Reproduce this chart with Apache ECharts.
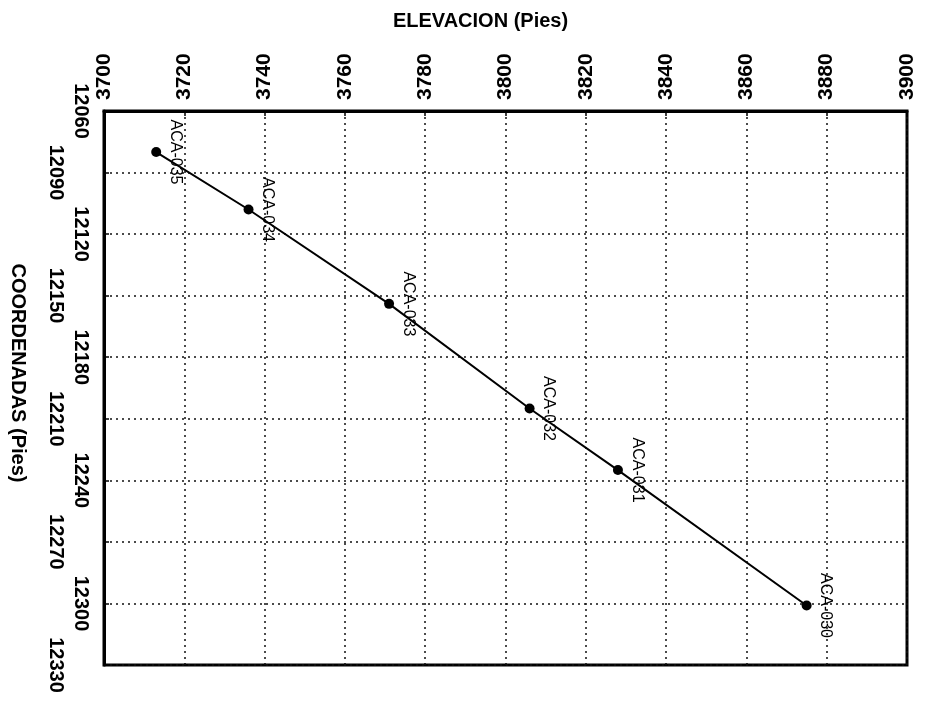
<!DOCTYPE html>
<html>
<head>
<meta charset="utf-8">
<script src="https://cdn.jsdelivr.net/npm/echarts@6/dist/echarts.min.js"></script>
<style>
html,body{margin:0;padding:0;background:#fff;}
#chart{width:926px;height:709px;}
</style>
</head>
<body>
<div id="chart"></div>
<script>
// Data (rotated scan)
const wellNames = ['ACA-035', 'ACA-034', 'ACA-033', 'ACA-032', 'ACA-031', 'ACA-030'];
const elevation = [3713, 3736, 3771, 3806, 3828, 3875];       // ELEVACION (Pies)
const coordinates = [12080, 12108, 12154, 12205, 12235, 12301]; // COORDENADAS (Pies)

const elevTicks = ['3700','3720','3740','3760','3780','3800','3820','3840','3860','3880','3900'];
const coordTicks = ['12060','12090','12120','12150','12180','12210','12240','12270','12300','12330'];

const xTitle = 'ELEVACION (Pies)';
const yTitle = 'COORDENADAS (Pies)';

const FONT = '"Liberation Sans", Arial, sans-serif';

const points = elevation.map((e, i) => ({ name: wellNames[i], value: [e, coordinates[i]] }));

function coordLabel(value, parity) {
  const idx = Math.round((value - 12060) / 30);
  if (idx % 2 !== parity) return '';
  return coordTicks[idx] !== undefined ? coordTicks[idx] : '';
}

const chart = echarts.init(document.getElementById('chart'), null, { renderer: 'canvas' });
chart.setOption({
  backgroundColor: '#ffffff',
  animation: false,
  grid: {
    left: 103, top: 111, right: 19, bottom: 44,
    show: true, borderColor: '#000', borderWidth: 3, backgroundColor: 'transparent'
  },
  xAxis: {
    type: 'value', position: 'top',
    min: 3700, max: 3900, interval: 20,
    name: xTitle, nameLocation: 'middle', nameGap: 80,
    nameTextStyle: { fontFamily: FONT, fontWeight: 'bold', fontSize: 20, color: '#000', padding: [0, 50, 0, 0] },
    axisLine: { show: true, lineStyle: { color: '#000', width: 3 } },
    axisTick: { show: true, inside: true, length: 5, lineStyle: { color: '#000', width: 1.5 } },
    axisLabel: {
      rotate: -90, margin: 11, fontFamily: FONT, fontWeight: 'bold', fontSize: 21, color: '#000',
      formatter: (v) => { const i = Math.round((v - 3700) / 20); return elevTicks[i] || ''; }
    },
    splitLine: { show: true, lineStyle: { color: '#111', width: 1.5, type: [2, 4] } }
  },
  yAxis: [
    {
      type: 'value', position: 'left', inverse: true,
      min: 12060, max: 12330, interval: 30,
      name: yTitle, nameLocation: 'middle', nameGap: 76, nameRotate: -90,
      nameTextStyle: { fontFamily: FONT, fontWeight: 'bold', fontSize: 20, color: '#000', padding: [0, 30, 0, 0] },
      axisLine: { show: true, lineStyle: { color: '#000', width: 3 } },
      axisTick: { show: true, inside: true, length: 5, lineStyle: { color: '#000', width: 1.5 } },
      axisLabel: {
        rotate: -90, margin: 13, fontFamily: FONT, fontWeight: 'bold', fontSize: 20, color: '#000',
        formatter: (v) => coordLabel(v, 0)
      },
      splitLine: { show: true, lineStyle: { color: '#111', width: 1.5, type: [2, 4] } }
    },
    {
      type: 'value', position: 'left', inverse: true,
      min: 12060, max: 12330, interval: 30,
      axisLine: { show: false }, axisTick: { show: false }, splitLine: { show: false },
      axisLabel: {
        rotate: -90, margin: 38, fontFamily: FONT, fontWeight: 'bold', fontSize: 20, color: '#000',
        formatter: (v) => coordLabel(v, 1)
      }
    }
  ],
  series: [{
    type: 'line',
    data: points,
    xAxisIndex: 0, yAxisIndex: 0,
    symbol: 'circle', symbolSize: 10,
    itemStyle: { color: '#000' },
    lineStyle: { color: '#000', width: 2 },
    label: {
      show: true, formatter: '{b}', position: 'right', distance: 14,
      rotate: -90, align: 'center', verticalAlign: 'middle',
      fontFamily: FONT, fontSize: 16, color: '#000'
    }
  }]
});
</script>
</body>
</html>
